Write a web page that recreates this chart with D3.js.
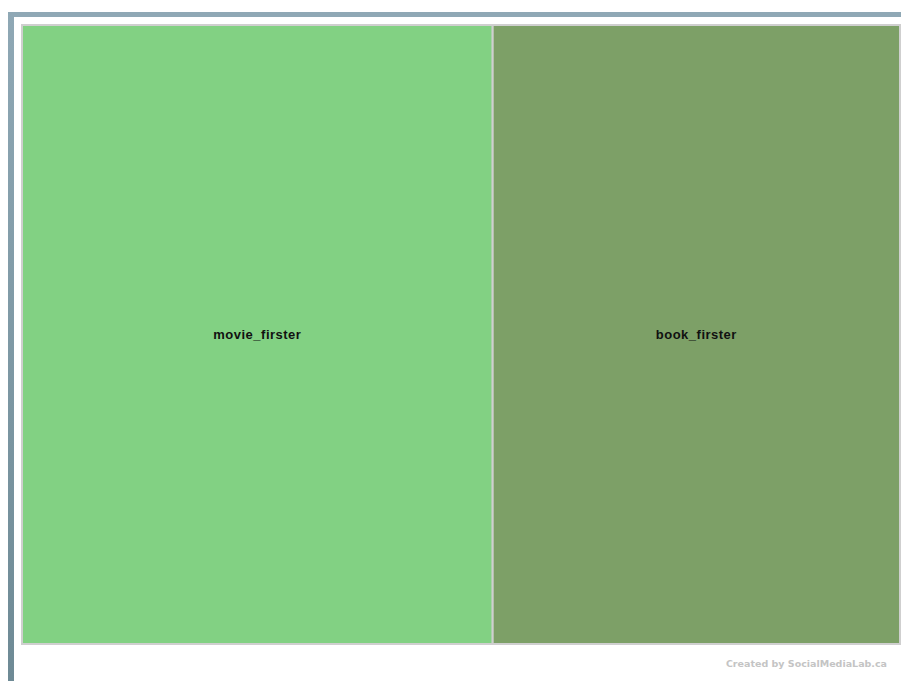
<!DOCTYPE html>
<html>
<head>
<meta charset="utf-8">
<script src="https://cdn.jsdelivr.net/npm/d3@7"></script>
<style>
  html, body { margin: 0; padding: 0; background: #fff; overflow: hidden; }
</style>
</head>
<body>
<svg id="chart" width="901" height="681"></svg>
<script>
// Data
const categories = ["movie_firster", "book_firster"];
const values = [52, 45];
const colors = ["#82d183", "#7da067"];
const footerText = "Created by SocialMediaLab.ca";

const svg = d3.select("#chart");
const W = 901, H = 681;

// Frame gradient
const defs = svg.append("defs");
const grad = defs.append("linearGradient").attr("id", "frameGrad")
  .attr("x1", 0).attr("y1", 0).attr("x2", 0).attr("y2", 1);
grad.append("stop").attr("offset", "0%").attr("stop-color", "#8fa8b5");
grad.append("stop").attr("offset", "100%").attr("stop-color", "#6e8a95");

svg.append("rect").attr("x", 8).attr("y", 12).attr("width", W - 8).attr("height", 5)
  .attr("fill", "#8fa8b5");
svg.append("rect").attr("x", 8).attr("y", 12).attr("width", 6).attr("height", H - 12)
  .attr("fill", "url(#frameGrad)");

// Treemap
const x0 = 22, y0 = 25, x1 = 900, y1 = 644;
const root = d3.hierarchy({
  children: categories.map((c, i) => ({ name: c, value: values[i], color: colors[i] }))
}).sum(d => d.value || 0);

d3.treemap().tile(d3.treemapDice).size([x1 - x0, y1 - y0]).paddingInner(0)(root);

const g = svg.append("g").attr("transform", `translate(${x0},${y0})`);
const cell = g.selectAll("g.cell").data(root.leaves()).join("g").attr("class", "cell");

cell.append("rect")
  .attr("x", d => d.x0)
  .attr("y", d => d.y0)
  .attr("width", d => d.x1 - d.x0)
  .attr("height", d => d.y1 - d.y0)
  .attr("fill", d => d.data.color)
  .attr("stroke", "#cfcfcf")
  .attr("stroke-width", 2);

cell.append("text")
  .attr("x", d => (d.x0 + d.x1) / 2)
  .attr("y", d => (d.y0 + d.y1) / 2)
  .attr("text-anchor", "middle")
  .attr("dominant-baseline", "central")
  .attr("font-family", "'Liberation Sans', Arial, sans-serif")
  .attr("font-weight", "bold")
  .attr("font-size", 13)
  .attr("letter-spacing", 0.5)
  .attr("fill", "#111")
  .text(d => d.data.name);

// Footer
svg.append("text")
  .attr("x", 887).attr("y", 667)
  .attr("text-anchor", "end")
  .attr("font-family", "'DejaVu Sans', Verdana, sans-serif")
  .attr("font-weight", "bold")
  .attr("font-size", 9.5)
  .attr("fill", "#c4c4c4")
  .text(footerText);
</script>
</body>
</html>
